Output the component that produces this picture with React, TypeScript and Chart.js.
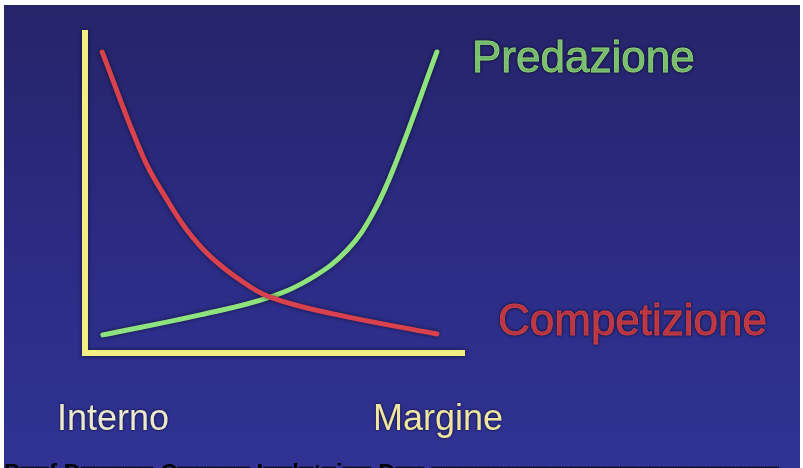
import React, { useEffect, useRef } from "react";
import { Chart, registerables } from "chart.js";

Chart.register(...registerables);

const competizioneX = [0.45, 1.53, 2.16, 2.68, 3.29, 4.08, 4.87, 6.53, 9.26];
const competizioneY = [9.32, 6.07, 4.74, 3.81, 3.0, 2.26, 1.73, 1.21, 0.59];
const predazioneX = [0.47, 3.03, 4.87, 6.0, 6.9, 7.58, 8.21, 9.26];
const predazioneY = [0.56, 1.18, 1.73, 2.35, 3.19, 4.33, 5.98, 9.32];
const axisLabels = ["Interno", "Margine"];
const seriesLabels = ["Predazione", "Competizione"];
const footerText = "P\u25A1\u25A1f D\u25A1\u25A1\u25A1\u25A1\u25A1 C\u25A1\u25A1\u25A1\u25A1\u25A1 I\u25A1\u25A1l\u25A1t\u25A1i\u25A1\u25A1 D\u25A1\u25A1 \u25A1\u25A1\u25A1\u25A1\u25A1\u25A1\u25A1\u25A1\u25A1\u25A1\u25A1\u25A1\u25A1\u25A1\u25A1\u25A1\u25A1\u25A1\u25A1\u25A1\u25A1\u25A1\u25A1\u25A1";

const FONT = "'Liberation Sans', Arial, sans-serif";

export default function App() {
  const ref = useRef<HTMLCanvasElement>(null);
  useEffect(() => {
    document.body.style.margin = "0";
    const canvas = ref.current!;
    const bgPlugin = {
      id: "bg",
      beforeDraw(chart: any) {
        const ctx = chart.ctx;
        const w = chart.width, h = chart.height;
        ctx.save();
        ctx.fillStyle = "#ffffff";
        ctx.fillRect(0, 0, w, h);
        const g = ctx.createLinearGradient(0, 5, 0, h);
        g.addColorStop(0, "#262469");
        g.addColorStop(0.5, "#2b2b83");
        g.addColorStop(1, "#303393");
        ctx.fillStyle = g;
        ctx.fillRect(4, 5, w - 7, h - 5);
        const a = chart.chartArea;
        ctx.shadowColor = "rgba(0,0,0,0.6)";
        ctx.shadowBlur = 4;
        ctx.strokeStyle = "#f2ee86";
        ctx.lineWidth = 6;
        ctx.lineCap = "butt";
        ctx.lineJoin = "miter";
        ctx.beginPath();
        ctx.moveTo(a.left, a.top);
        ctx.lineTo(a.left, a.bottom);
        ctx.lineTo(a.right, a.bottom);
        ctx.stroke();
        ctx.restore();
      },
      beforeDatasetsDraw(chart: any) {
        const ctx = chart.ctx;
        ctx.save();
        ctx.shadowColor = "rgba(0,0,0,0.55)";
        ctx.shadowBlur = 4;
      },
      afterDatasetsDraw(chart: any) {
        chart.ctx.restore();
      },
      afterDraw(chart: any) {
        const ctx = chart.ctx;
        ctx.save();
        ctx.shadowColor = "rgba(0,0,0,0.75)";
        ctx.shadowBlur = 3;
        ctx.textAlign = "left";
        ctx.textBaseline = "alphabetic";
        ctx.lineWidth = 0.8;
        ctx.font = `44px ${FONT}`;
        ctx.fillStyle = "#8fdc80";
        ctx.strokeStyle = "#8fdc80";
        ctx.fillText(seriesLabels[0], 472, 72);
        ctx.strokeText(seriesLabels[0], 472, 72);
        ctx.fillStyle = "#d9414d";
        ctx.strokeStyle = "#d9414d";
        ctx.fillText(seriesLabels[1], 498, 335);
        ctx.strokeText(seriesLabels[1], 498, 335);
        ctx.font = `36px ${FONT}`;
        ctx.fillStyle = "#ebe9cf";
        ctx.fillText(axisLabels[0], 57, 430);
        ctx.fillStyle = "#f0e6a4";
        ctx.fillText(axisLabels[1], 373, 430);
        ctx.shadowBlur = 0;
        ctx.font = `bold 24px ${FONT}`;
        ctx.fillStyle = "#000000";
        ctx.fillText(footerText, 4, 481);
        ctx.restore();
      },
    };
    const chart = new Chart(canvas, {
      type: "line",
      data: {
        datasets: [
          {
            label: seriesLabels[1],
            data: competizioneX.map((x, i) => ({ x, y: competizioneY[i] })),
            borderColor: "#d8424f",
            borderWidth: 5,
            pointRadius: 0,
            tension: 0.4,
            borderCapStyle: "round",
          },
          {
            label: seriesLabels[0],
            data: predazioneX.map((x, i) => ({ x, y: predazioneY[i] })),
            borderColor: "#8ee37f",
            borderWidth: 5,
            pointRadius: 0,
            tension: 0.4,
            borderCapStyle: "round",
          },
        ],
      },
      options: {
        responsive: false,
        animation: false,
        layout: { padding: { left: 85, top: 30, right: 338, bottom: 115 } },
        plugins: { legend: { display: false }, tooltip: { enabled: false } },
        scales: {
          x: { type: "linear", min: 0, max: 10, display: false },
          y: { type: "linear", min: 0, max: 10, display: false },
        },
      },
      plugins: [bgPlugin],
    } as any);
    return () => chart.destroy();
  }, []);
  return <canvas ref={ref} width={803} height={468} style={{ display: "block" }} />;
}
